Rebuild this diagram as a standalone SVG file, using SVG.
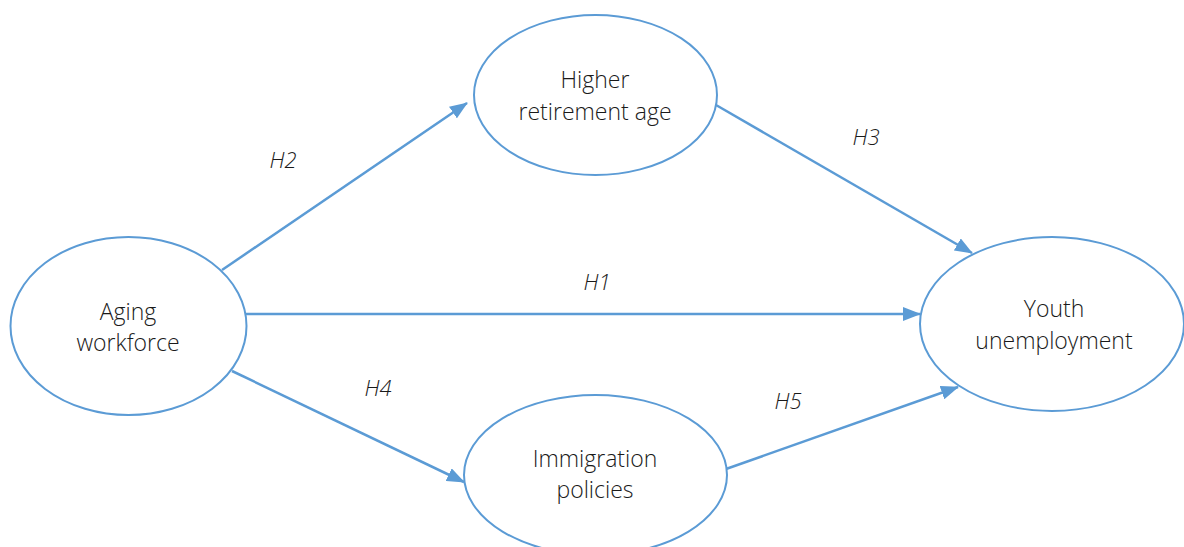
<svg xmlns="http://www.w3.org/2000/svg" width="1184" height="547" viewBox="0 0 1184 547">
<style>
.node{fill:#fff;stroke:#5B9BD5;stroke-width:2}
.lbl{font-family:"Open Sans","Liberation Sans",sans-serif;font-size:23px;fill:#1a1a1a;text-anchor:middle;font-weight:300}
.h{font-family:"Open Sans","Liberation Sans",sans-serif;font-size:22px;font-style:italic;fill:#1a1a1a;text-anchor:middle;font-weight:300}
.edge{stroke:#5B9BD5;stroke-width:2.5;fill:none;marker-end:url(#arr)}
</style>
<defs>
<marker id="arr" markerUnits="userSpaceOnUse" markerWidth="18" markerHeight="14" viewBox="0 0 18 14" refX="17" refY="7" orient="auto">
<path d="M0,0 L18,7 L0,14 Z" fill="#5B9BD5"/>
</marker>
</defs>
<rect width="1184" height="547" fill="#fff"/>
<g id="connectors">
<line class="edge" x1="222" y1="270" x2="467" y2="103"/>
<line class="edge" x1="716" y1="105" x2="972" y2="253"/>
<line class="edge" x1="246" y1="314" x2="920" y2="314"/>
<line class="edge" x1="232" y1="371" x2="464" y2="482"/>
<line class="edge" x1="726" y1="469" x2="958" y2="387"/>
<text class="h" x="283" y="168">H2</text>
<text class="h" x="866" y="145">H3</text>
<text class="h" x="597" y="290">H1</text>
<text class="h" x="378" y="396">H4</text>
<text class="h" x="788" y="409">H5</text>
</g>
<g id="aging">
<ellipse class="node" cx="128.5" cy="326" rx="118" ry="89"/>
<text class="lbl" x="128" y="320">Aging</text>
<text class="lbl" x="128" y="351">workforce</text>
</g>
<g id="retirement">
<ellipse class="node" cx="595.5" cy="95" rx="121.5" ry="80"/>
<text class="lbl" x="595" y="88">Higher</text>
<text class="lbl" x="595" y="120">retirement age</text>
</g>
<g id="youth">
<ellipse class="node" cx="1052" cy="324" rx="132" ry="87"/>
<text class="lbl" x="1054" y="317">Youth</text>
<text class="lbl" x="1054" y="349">unemployment</text>
</g>
<g id="immigration">
<ellipse class="node" cx="595.5" cy="475" rx="131.5" ry="80"/>
<text class="lbl" x="595" y="467">Immigration</text>
<text class="lbl" x="595" y="498">policies</text>
</g>
</svg>
